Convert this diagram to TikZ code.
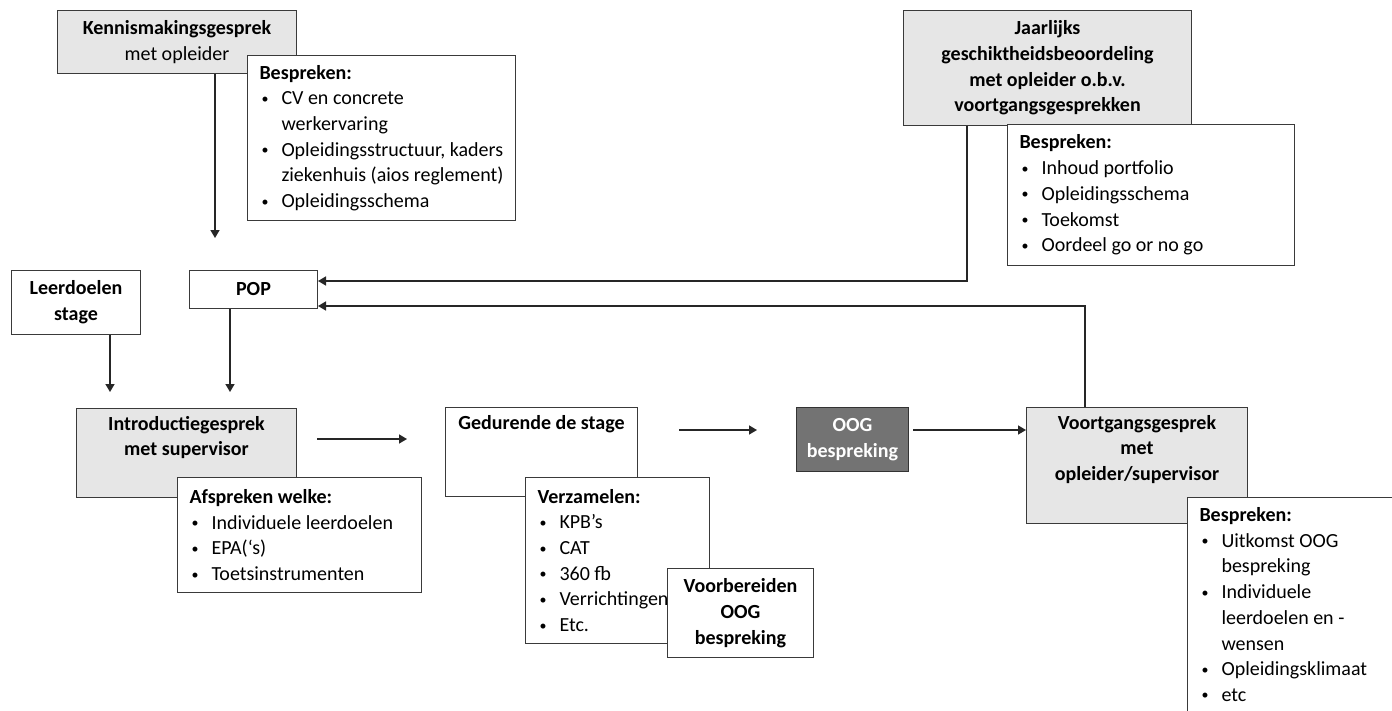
\documentclass[tikz,border=0pt]{standalone}
\usepackage{fontspec}
\setmainfont{Carlito}
\usetikzlibrary{positioning,arrows.meta}

\definecolor{boxgray}{HTML}{E6E6E6}
\definecolor{ooggray}{HTML}{737373}
\definecolor{lijn}{HTML}{3A3A3A}

\newcommand{\bul}{\makebox[22pt][l]{\hspace{2pt}\raisebox{1.5pt}{\fontsize{14}{14}\selectfont\textbullet}}}
\newcommand{\ind}{\hspace*{22pt}}

\begin{document}
\begin{tikzpicture}[x=1pt,y=-1pt]
	\tikzset{every node/.style={font=\fontsize{20}{25.7}\selectfont}}
	\tikzset{box/.style={draw=lijn,line width=1pt,anchor=north west,inner sep=0pt}}
	\tikzset{gbox/.style={box,fill=boxgray}}
	\tikzset{wbox/.style={box,fill=white}}
	\tikzset{cbox/.style={align=center,font=\fontsize{20}{25.7}\selectfont\bfseries}}
	\tikzset{lst/.style={box,fill=white,align=flush left,inner xsep=12pt}}
	\tikzset{hdr/.style={inner sep=0pt,anchor=north,align=center,font=\fontsize{20}{25.7}\selectfont\bfseries}}
	\tikzset{arr/.style={draw=black!85,line width=1.5pt,-{Triangle[length=8pt,width=9pt]}}}

	\clip (0,0) rectangle (1392,710);
	\fill[white] (0,0) rectangle (1392,710);

	% bovenste rij
	\node[gbox,cbox,minimum width=239pt,minimum height=63pt] (kenn) at (57,10)
	    {Kennismakingsgesprek\\\mdseries met opleider};
	\node[lst,text width=244pt,minimum height=165pt] (besp1) at (247,55)
	    {\textbf{Bespreken:}\\
	     \bul CV en concrete\\
	     \ind werkervaring\\
	     \bul Opleidingsstructuur, kaders\\
	     \ind ziekenhuis (aios reglement)\\
	     \bul Opleidingsschema};

	\node[gbox,cbox,minimum width=288pt,minimum height=115pt] (jaar) at (903,10)
	    {Jaarlijks\\geschiktheidsbeoordeling\\met opleider o.b.v.\\voortgangsgesprekken};
	\node[lst,text width=263pt,minimum height=141pt] (besp2) at (1007,124)
	    {\textbf{Bespreken:}\\
	     \bul Inhoud portfolio\\
	     \bul Opleidingsschema\\
	     \bul Toekomst\\
	     \bul Oordeel go or no go};

	\node[wbox,cbox,minimum width=129pt,minimum height=64pt] (leer) at (11,270)
	    {Leerdoelen\\stage};
	\node[wbox,cbox,minimum width=128pt,minimum height=38pt] (pop) at (189,270) {POP};

	% middelste rij
	\node[gbox,minimum width=220pt,minimum height=89pt] (intro) at (76,408) {};
	\node[hdr,below=8pt of intro.north] (introtxt) {Introductiegesprek\\met supervisor};
	\node[lst,text width=220pt,minimum height=115pt] (afsp) at (177,477)
	    {\textbf{Afspreken welke:}\\
	     \bul Individuele leerdoelen\\
	     \bul EPA(`s)\\
	     \bul Toetsinstrumenten};

	\node[wbox,minimum width=192pt,minimum height=89pt] (ged) at (445,407) {};
	\node[hdr,below=8pt of ged.north] (gedtxt) {Gedurende de stage};
	\node[lst,text width=160pt,minimum height=166pt] (verz) at (525,477)
	    {\textbf{Verzamelen:}\\
	     \bul KPB's\\
	     \bul CAT\\
	     \bul 360 fb\\
	     \bul Verrichtingen\\
	     \bul Etc.};
	\node[wbox,cbox,minimum width=146pt,minimum height=89pt] (voor) at (667,568)
	    {Voorbereiden\\OOG\\bespreking};

	\node[box,cbox,fill=ooggray,draw=black!80,text=white,minimum width=112pt,minimum height=64pt] (oog) at (796,407)
	    {OOG\\bespreking};

	\node[gbox,minimum width=221pt,minimum height=116pt] (voort) at (1026,407) {};
	\node[hdr,below=8pt of voort.north] (voorttxt) {Voortgangsgesprek\\met\\opleider/supervisor};
	\node[lst,text width=226pt,inner ysep=10pt] (besp3) at (1187,497)
	    {\textbf{Bespreken:}\\
	     \bul Uitkomst OOG\\
	     \ind bespreking\\
	     \bul Individuele\\
	     \ind leerdoelen en -\\
	     \ind wensen\\
	     \bul Opleidingsklimaat\\
	     \bul etc};

	% pijlen
	\coordinate (popin) at (215,238);
	\coordinate (leerin) at (110,392);
	\coordinate (introin) at (230,392);
	\coordinate (a1) at (317,439);
	\coordinate (a2) at (407,439);
	\coordinate (b1) at (679,430);
	\coordinate (b2) at (757,430);
	\coordinate (c1) at (913,430);
	\coordinate (j1) at (967,281);
	\coordinate (v1) at (1085,306);

	\draw[arr] (kenn.south -| popin) -- (popin);
	\draw[arr] (leer.south -| leerin) -- (leerin);
	\draw[arr] (pop.south -| introin) -- (introin);
	\draw[arr] (a1) -- (a2);
	\draw[arr] (b1) -- (b2);
	\draw[arr] (c1) -- (voort.west |- c1);
	\draw[arr] (jaar.south -| j1) -- (j1) -- (pop.east |- j1);
	\draw[arr] (voort.north -| v1) -- (v1) -- (pop.east |- v1);
\end{tikzpicture}
\end{document}
